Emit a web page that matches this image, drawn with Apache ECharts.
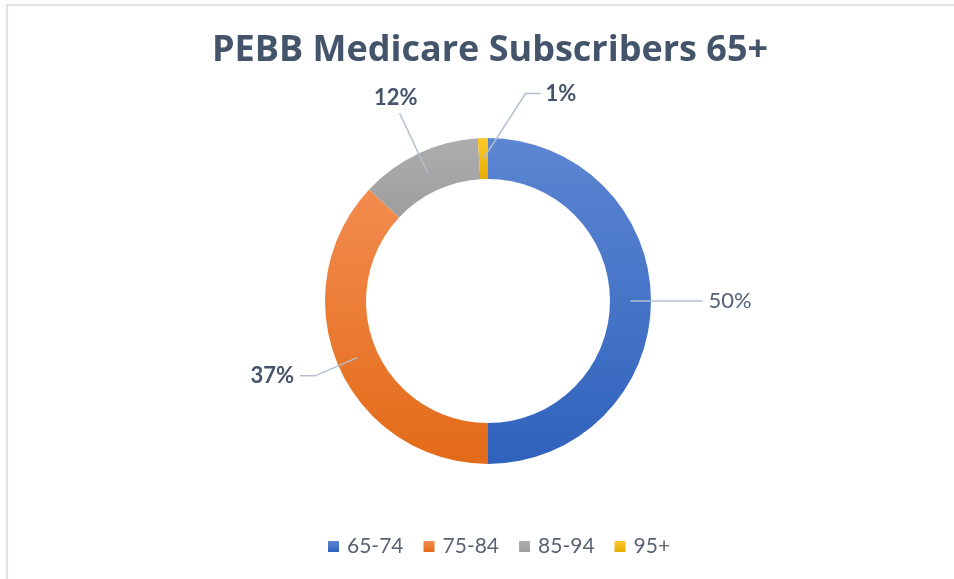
<!DOCTYPE html>
<html>
<head>
<meta charset="utf-8">
<script src="https://cdn.jsdelivr.net/npm/echarts@6/dist/echarts.min.js"></script>
<style>
  html, body { margin: 0; padding: 0; background: #ffffff; }
  #frame { position: absolute; left: 6px; top: 4px; width: 960px; height: 590px; border-top: 2px solid #DEE3EA; border-left: 2px solid #DEE3EA; }
  #chart { position: absolute; left: 0; top: 0; width: 954px; height: 579px; }
</style>
</head>
<body>
<div id="frame"></div>
<div id="chart"></div>
<script>
// ---- data ----
const titleText = 'PEBB Medicare Subscribers 65+';
const categories = ['65-74', '75-84', '85-94', '95+'];
const shares = [50, 37, 12, 1]; // percent

// ---- styling (kept separate from data) ----
const topColors = ['#5D86D2', '#F28C4F', '#ADADAD', '#FFC72C'];
const bottomColors = ['#2F62BC', '#E36A17', '#9E9E9E', '#E6AC00'];
const labelBold = [false, true, true, true];
const lineLen = [35, 46, 65, 10];
const lineLen2 = [37, 15, 0, 0];

const grad = (i) => new echarts.graphic.LinearGradient(0, 0, 0, 1, [
  { offset: 0, color: topColors[i] },
  { offset: 1, color: bottomColors[i] }
]);

const ringData = categories.map((c, i) => ({
  name: c, value: shares[i],
  itemStyle: { color: grad(i) }
}));

const labelData = categories.map((c, i) => ({
  name: c, value: shares[i],
  label: { fontWeight: labelBold[i] ? 'bold' : 'normal', color: labelBold[i] ? '#44546A' : '#56627A' },
  labelLine: { length: lineLen[i], length2: lineLen2[i] }
}));

const chart = echarts.init(document.getElementById('chart'), null, { renderer: 'canvas' });
chart.setOption({
  animation: false,
  backgroundColor: 'transparent',
  color: topColors,
  title: {
    text: titleText,
    left: 207,
    top: 28,
    textStyle: { fontFamily: 'Open Sans', fontWeight: 'bold', fontSize: 36, color: '#44546A' }
  },
  legend: {
    data: categories,
    left: 323,
    top: 531,
    itemWidth: 11,
    itemHeight: 11,
    itemGap: 20,
    icon: 'rect',
    textStyle: { fontFamily: 'Lato', fontSize: 21, color: '#5B6373', padding: [0, 0, 0, 3] }
  },
  series: [
    {
      type: 'pie',
      name: 'ring',
      center: [488, 301],
      radius: [122, 163],
      startAngle: 90,
      clockwise: true,
      label: { show: false },
      labelLine: { show: false },
      emphasis: { disabled: true },
      itemStyle: { borderWidth: 0 },
      data: ringData,
      z: 2
    },
    {
      type: 'pie',
      name: 'labels',
      center: [488, 301],
      radius: [0, 142.5],
      startAngle: 90,
      clockwise: true,
      silent: true,
      avoidLabelOverlap: false,
      legendHoverLink: false,
      itemStyle: { color: 'rgba(0,0,0,0)' },
      emphasis: { disabled: true },
      label: {
        show: true,
        position: 'outside',
        formatter: '{c}%',
        fontFamily: 'Lato',
        fontSize: 22,
        distanceToLabelLine: 6
      },
      labelLine: {
        show: true,
        smooth: false,
        lineStyle: { color: '#B3BFCF', width: 1.5 }
      },
      labelLayout: function (p) {
        const pts = p.labelLinePoints;
        if (!pts) return {};
        const s = pts[0];
        if (p.dataIndex === 2) {
          const e = pts[pts.length - 1];
          return { x: e[0] - 4, y: e[1] - 4, align: 'center', verticalAlign: 'bottom', labelLinePoints: pts };
        }
        if (p.dataIndex === 3) {
          const bend = [s[0] + 42, s[1] - 65];
          const end = [s[0] + 57, s[1] - 65];
          return { x: end[0] + 5, y: end[1], align: 'left', verticalAlign: 'middle', labelLinePoints: [s, bend, end] };
        }
        return {};
      },
      data: labelData,
      z: 3
    }
  ]
});
</script>
</body>
</html>
